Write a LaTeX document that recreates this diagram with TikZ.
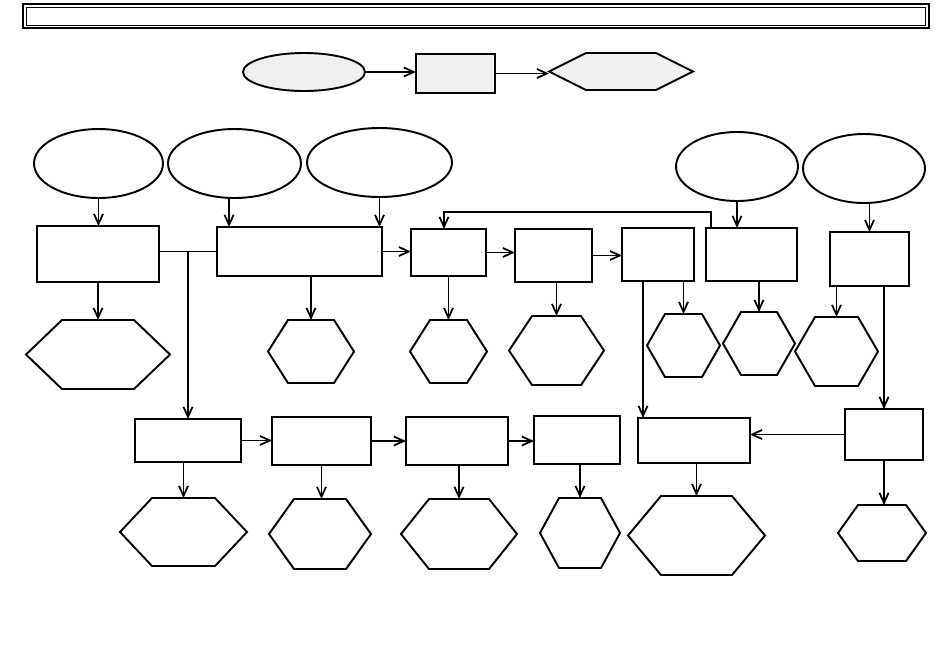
\documentclass[tikz,border=0pt]{standalone}
\usetikzlibrary{shapes.geometric,arrows.meta}

\tikzset{
  blk/.style={draw, line width=1.1pt, inner sep=0pt, outer sep=0pt},
  oval/.style={blk, ellipse},
  hexbox/.style={inner sep=0pt, outer sep=0pt},
  hexline/.style={line width=1.1pt, line join=miter},
  arr/.style={line width=1pt, -{Straight Barb[length=2mm,width=1.8mm,line width=1pt]}},
  lnk/.style={line width=1pt}
}

% hexagon: name, cx, cy, width, height, point depth (px)
\newcommand{\hexa}[7][]{%
  \node[hexbox, minimum width=#5*0.02cm, minimum height=#6*0.02cm] (#2) at (#3,#4) {};
  \draw[hexline,#1] (#2.west) -- ([xshift=#7*0.02cm]#2.north west) -- ([xshift=-#7*0.02cm]#2.north east)
    -- (#2.east) -- ([xshift=-#7*0.02cm]#2.south east) -- ([xshift=#7*0.02cm]#2.south west) -- cycle;
}

\begin{document}
\begin{tikzpicture}[x=0.02cm, y=-0.02cm]
\useasboundingbox (0,0) rectangle (950,667);

% title frame
\node[blk, line width=1.3pt, minimum width=18.12cm, minimum height=0.48cm] (title) at (476,16) {};
\node[blk, line width=0.5pt, minimum width=18.0cm, minimum height=0.36cm] (titlein) at (476,16) {};

% legend row
\node[oval, fill=gray!12, minimum width=2.44cm, minimum height=0.76cm] (e0) at (304,72) {};
\node[blk, fill=gray!12, minimum width=1.58cm, minimum height=0.78cm] (b0) at (455.5,73.5) {};
\hexa[fill=gray!12]{h0}{621}{71.5}{144}{37}{37}
\draw[arr] (e0.east) -- (e0.east -| b0.west);
\draw[arr] (b0.east) -- (b0.east -| h0.west);

% ellipses
\node[oval, minimum width=2.58cm, minimum height=1.38cm] (e1) at (98.5,163.5) {};
\node[oval, minimum width=2.66cm, minimum height=1.38cm] (e2) at (234.5,163.5) {};
\node[oval, minimum width=2.90cm, minimum height=1.38cm] (e3) at (379.5,162.5) {};
\node[oval, minimum width=2.44cm, minimum height=1.38cm] (e4) at (737,166.5) {};
\node[oval, minimum width=2.44cm, minimum height=1.38cm] (e5) at (864,168.5) {};

% upper boxes
\node[blk, minimum width=2.44cm, minimum height=1.12cm] (b1) at (98,254) {};
\node[blk, minimum width=3.30cm, minimum height=0.98cm] (b2) at (299.5,251.5) {};
\node[blk, minimum width=1.50cm, minimum height=0.94cm] (b3) at (448.5,252.5) {};
\node[blk, minimum width=1.54cm, minimum height=1.06cm] (b4) at (553.5,255.5) {};
\node[blk, minimum width=1.44cm, minimum height=1.06cm] (b5) at (658,254.5) {};
\node[blk, minimum width=1.82cm, minimum height=1.06cm] (b6) at (751.5,254.5) {};
\node[blk, minimum width=1.58cm, minimum height=1.08cm] (b7) at (869.5,259) {};

% upper hexagons
\hexa{h1}{98}{354.5}{144}{69}{36}
\hexa{h2}{311}{351.5}{86}{63}{20}
\hexa{h3}{448.5}{351.5}{77}{63}{20}
\hexa{h4}{556.5}{350.5}{95}{69}{23}
\hexa{h5}{683.5}{345.5}{73}{63}{18}
\hexa{h6}{759}{343.5}{72}{63}{18}
\hexa{h7}{836.5}{351.5}{83}{69}{20}

% lower boxes
\node[blk, minimum width=2.12cm, minimum height=0.86cm] (b8) at (188,440.5) {};
\node[blk, minimum width=1.98cm, minimum height=0.96cm] (b9) at (321.5,441) {};
\node[blk, minimum width=2.04cm, minimum height=0.96cm] (b10) at (457,441) {};
\node[blk, minimum width=1.72cm, minimum height=0.96cm] (b11) at (577,440) {};
\node[blk, minimum width=2.24cm, minimum height=0.90cm] (b12) at (694,440.5) {};
\node[blk, minimum width=1.56cm, minimum height=1.02cm] (b13) at (884,434.5) {};

% lower hexagons
\hexa{h8}{183.5}{532}{127}{68}{32}
\hexa{h9}{320}{534}{102}{70}{25}
\hexa{h10}{459}{534}{116}{70}{28}
\hexa{h11}{580}{533}{80}{70}{19}
\hexa{h12}{696.5}{535.5}{137}{79}{33}
\hexa{h13}{882}{533}{88}{56}{20}

% ellipses to boxes
\draw[arr] (e1.south) -- (e1.south |- b1.north);
\draw[arr] (e2.-99) -- (e2.-99 |- b2.north);
\draw[arr] (e3.south) -- (e3.south |- b2.north);
\draw[arr] (e4.south) -- (e4.south |- b6.north);
\draw[arr] (b7.north |- e5.south) -- (b7.north);

% upper chain
\coordinate (j1) at (b8.north |- b2.west);
\draw[lnk] (b1.east |- b2.west) -- (b2.west);
\draw[arr] (j1) -- (b8.north);
\draw[arr] (b2.east) -- (b2.east -| b3.west);
\draw[arr] (b3.east) -- (b3.east -| b4.west);
\draw[arr] (b4.east) -- (b4.east -| b5.west);
\draw[arr] ([xshift=0.1cm]b6.north west) -- ++(0,-16) -| ([xshift=-0.09cm]b3.north);
\draw[arr] ([xshift=0.42cm]b5.south west) -- ([xshift=0.42cm]b5.south west |- b12.north);
\draw[arr] (b13.north |- b7.south) -- (b13.north);

% boxes to upper hexagons
\draw[arr] (b1.south) -- (b1.south |- h1.north);
\draw[arr] (h2.north |- b2.south) -- (h2.north);
\draw[arr] (b3.south) -- (b3.south |- h3.north);
\draw[arr] (h4.north |- b4.south) -- (h4.north);
\draw[arr] (h5.north |- b5.south) -- (h5.north);
\draw[arr] (h6.north |- b6.south) -- (h6.north);
\draw[arr] (h7.north |- b7.south) -- (h7.north);

% lower chain
\draw[arr] (b8.east) -- (b8.east -| b9.west);
\draw[arr] (b9.east) -- (b9.east -| b10.west);
\draw[arr] (b10.east) -- (b10.east -| b11.west);
\draw[arr] (b13.west) -- (b13.west -| b12.east);

% boxes to lower hexagons
\draw[arr] (h8.north |- b8.south) -- (h8.north);
\draw[arr] (b9.south) -- (b9.south |- h9.north);
\draw[arr] (h10.north |- b10.south) -- (h10.north);
\draw[arr] (h11.north |- b11.south) -- (h11.north);
\draw[arr] (h12.north |- b12.south) -- (h12.north);
\draw[arr] (b13.south) -- (b13.south |- h13.north);
\end{tikzpicture}
\end{document}
